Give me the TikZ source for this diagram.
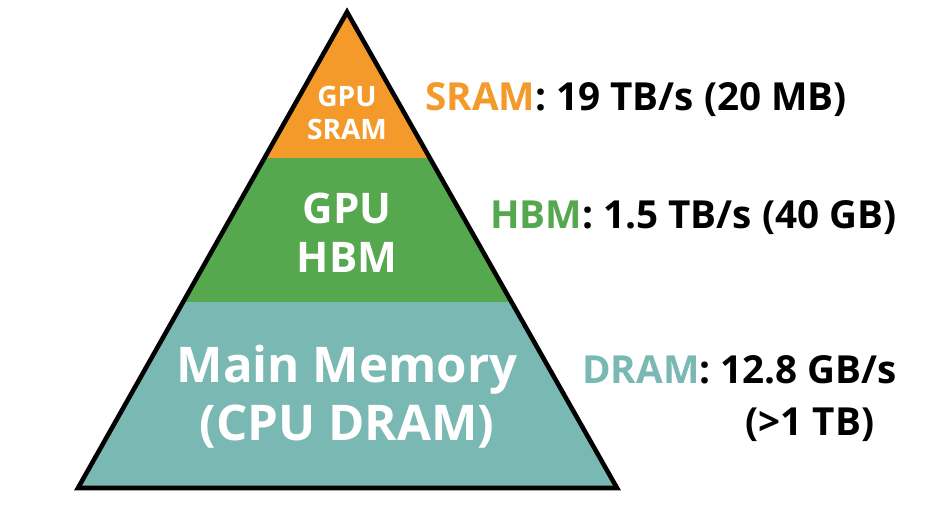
\documentclass[tikz,border=0pt]{standalone}
\usepackage{fontspec}
\setmainfont{Open Sans}
\usetikzlibrary{positioning}
\definecolor{sramc}{HTML}{F39A2B}
\definecolor{hbmc}{HTML}{55A84E}
\definecolor{dramc}{HTML}{7AB8B4}
\tikzset{
  lvl/.style 2 args={font=\bfseries\fontsize{#1}{#2}\selectfont, align=center, text=white},
  spec/.style={font=\bfseries\fontsize{22}{26}\selectfont, anchor=west, inner sep=0pt}
}
\begin{document}
\begin{tikzpicture}[x=0.02cm, y=-0.02cm]
    \useasboundingbox (0,0) rectangle (952,509);
    % bands of the pyramid
    \fill[dramc] (183,302) -- (511,302) -- (617,488) -- (78,488) -- cycle;
    \fill[hbmc] (264.5,158) -- (429.8,158) -- (511,302) -- (183,302) -- cycle;
    \fill[sramc] (347,12) -- (429.8,158) -- (264.5,158) -- cycle;
    \draw[line width=2.6pt, line join=miter] (347,12) -- (617,488) -- (78,488) -- cycle;
    % level names
    \node[lvl={16}{19}] (sram) at (347,113) {GPU\\SRAM};
    \node[lvl={24}{28}] (hbm) at (347,233) {GPU\\HBM};
    \node[lvl={28}{33}] (dram) at (347,397) {Main Memory\\(CPU DRAM)};
    % bandwidth labels
    \node[spec] (sramlbl) at (425,100) {\textcolor{sramc}{SRAM}: 19 TB/s (20 MB)};
    \node[spec] (hbmlbl) at (490,218) {\textcolor{hbmc}{HBM}: 1.5 TB/s (40 GB)};
    \node[spec] (dramlbl) at (582,370) {\textcolor{dramc}{DRAM}: 12.8 GB/s};
    \node[font=\bfseries\fontsize{22}{26}\selectfont, inner sep=0pt] (dramsize) at (810,425) {(>1 TB)};
\end{tikzpicture}
\end{document}
